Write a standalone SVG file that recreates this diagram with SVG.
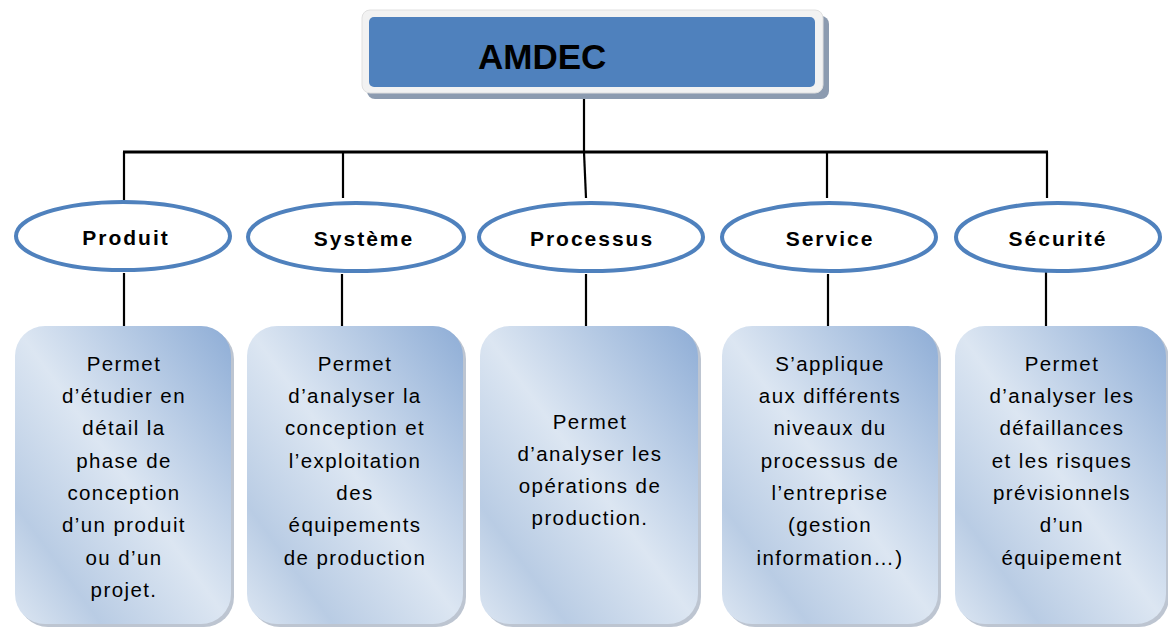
<svg xmlns="http://www.w3.org/2000/svg" width="1168" height="628" viewBox="0 0 1168 628">
<style>
.conn{stroke:#000;stroke-width:2.2;fill:none}
.ell{fill:#fff;stroke:#4f81bd;stroke-width:4}
.lab{font-family:"Liberation Sans",Arial,sans-serif;font-weight:bold;font-size:21px;letter-spacing:2px;fill:#000;text-anchor:middle}
.box{fill:url(#bg);stroke:none}
.shadow{fill:#6d7f99;opacity:0.45}
.txt{font-family:"Liberation Sans",Arial,sans-serif;font-size:20.5px;letter-spacing:1.4px;fill:#000;text-anchor:middle}
</style>
<defs>
<linearGradient id="bg" x1="1" y1="0" x2="0" y2="1">
<stop offset="0" stop-color="#8eadd6"/>
<stop offset="0.5" stop-color="#dce6f2"/>
<stop offset="0.8" stop-color="#b9cce4"/>
<stop offset="1" stop-color="#dce6f2"/>
</linearGradient>
</defs>
<rect width="1168" height="628" fill="#fff"/>
<g id="connectors">
<line class="conn" x1="584" y1="92" x2="584" y2="152"/>
<line class="conn" x1="123" y1="152" x2="1048" y2="152" style="stroke-width:3"/>
<line class="conn" x1="124" y1="152" x2="124" y2="200"/>
<line class="conn" x1="343" y1="152" x2="343" y2="198"/>
<line class="conn" x1="584" y1="152" x2="586" y2="198"/>
<line class="conn" x1="827" y1="152" x2="827" y2="198"/>
<line class="conn" x1="1047" y1="152" x2="1047" y2="198"/>
<line class="conn" x1="124" y1="273" x2="124" y2="326"/>
<line class="conn" x1="342" y1="274" x2="342" y2="326"/>
<line class="conn" x1="586" y1="274" x2="586" y2="326"/>
<line class="conn" x1="828" y1="274" x2="828" y2="326"/>
<line class="conn" x1="1046" y1="265" x2="1046" y2="326"/>
</g>
<g id="amdec">
<rect x="367" y="16" width="462" height="83" rx="8" fill="#8c9bb0"/>
<rect x="362" y="10" width="461" height="83" rx="8" fill="#f2f2f2" stroke="#e0e0e0" stroke-width="1"/>
<rect x="369" y="17" width="446" height="70" rx="5" fill="#4f81bd"/>
<text x="478" y="69" style="font-family:'Liberation Sans',Arial,sans-serif;font-weight:bold;font-size:35px;fill:#000">AMDEC</text>
</g>
<g id="produit">
<ellipse class="ell" cx="123" cy="236" rx="107" ry="34"/>
<text class="lab" x="126" y="245">Produit</text>
</g>
<g id="systeme">
<ellipse class="ell" cx="356" cy="237" rx="108" ry="34"/>
<text class="lab" x="364" y="246">Système</text>
</g>
<g id="processus">
<ellipse class="ell" cx="591" cy="237" rx="112" ry="34"/>
<text class="lab" x="592" y="246">Processus</text>
</g>
<g id="service">
<ellipse class="ell" cx="829" cy="237" rx="107" ry="34"/>
<text class="lab" x="830" y="246">Service</text>
</g>
<g id="securite">
<ellipse class="ell" cx="1058" cy="237" rx="102" ry="34"/>
<text class="lab" x="1058" y="246">Sécurité</text>
</g>
<g id="box-produit">
<rect class="shadow" x="18" y="329" width="216" height="298" rx="30"/>
<rect class="box" x="15" y="326" width="216" height="298" rx="30"/>
<text class="txt" x="124"><tspan x="124" y="371">Permet</tspan><tspan x="124" y="403">d’étudier en</tspan><tspan x="124" y="435">détail la</tspan><tspan x="124" y="468">phase de</tspan><tspan x="124" y="500">conception</tspan><tspan x="124" y="532">d’un produit</tspan><tspan x="124" y="565">ou d’un</tspan><tspan x="124" y="597">projet.</tspan></text>
</g>
<g id="box-systeme">
<rect class="shadow" x="250" y="329" width="216" height="298" rx="30"/>
<rect class="box" x="247" y="326" width="216" height="298" rx="30"/>
<text class="txt" x="355"><tspan x="355" y="371">Permet</tspan><tspan x="355" y="403">d’analyser la</tspan><tspan x="355" y="435">conception et</tspan><tspan x="355" y="468">l’exploitation</tspan><tspan x="355" y="500">des</tspan><tspan x="355" y="532">équipements</tspan><tspan x="355" y="565">de production</tspan></text>
</g>
<g id="box-processus">
<rect class="shadow" x="483" y="329" width="218" height="298" rx="30"/>
<rect class="box" x="480" y="326" width="218" height="298" rx="30"/>
<text class="txt" x="590"><tspan x="590" y="429">Permet</tspan><tspan x="590" y="461">d’analyser les</tspan><tspan x="590" y="493">opérations de</tspan><tspan x="590" y="525">production.</tspan></text>
</g>
<g id="box-service">
<rect class="shadow" x="725" y="329" width="216" height="298" rx="30"/>
<rect class="box" x="722" y="326" width="216" height="298" rx="30"/>
<text class="txt" x="830"><tspan x="830" y="371">S’applique</tspan><tspan x="830" y="403">aux différents</tspan><tspan x="830" y="435">niveaux du</tspan><tspan x="830" y="468">processus de</tspan><tspan x="830" y="500">l’entreprise</tspan><tspan x="830" y="532">(gestion</tspan><tspan x="830" y="565">information…)</tspan></text>
</g>
<g id="box-securite">
<rect class="shadow" x="958" y="329" width="211" height="298" rx="30"/>
<rect class="box" x="955" y="326" width="211" height="298" rx="30"/>
<text class="txt" x="1062"><tspan x="1062" y="371">Permet</tspan><tspan x="1062" y="403">d’analyser les</tspan><tspan x="1062" y="435">défaillances</tspan><tspan x="1062" y="468">et les risques</tspan><tspan x="1062" y="500">prévisionnels</tspan><tspan x="1062" y="532">d’un</tspan><tspan x="1062" y="565">équipement</tspan></text>
</g>
</svg>
